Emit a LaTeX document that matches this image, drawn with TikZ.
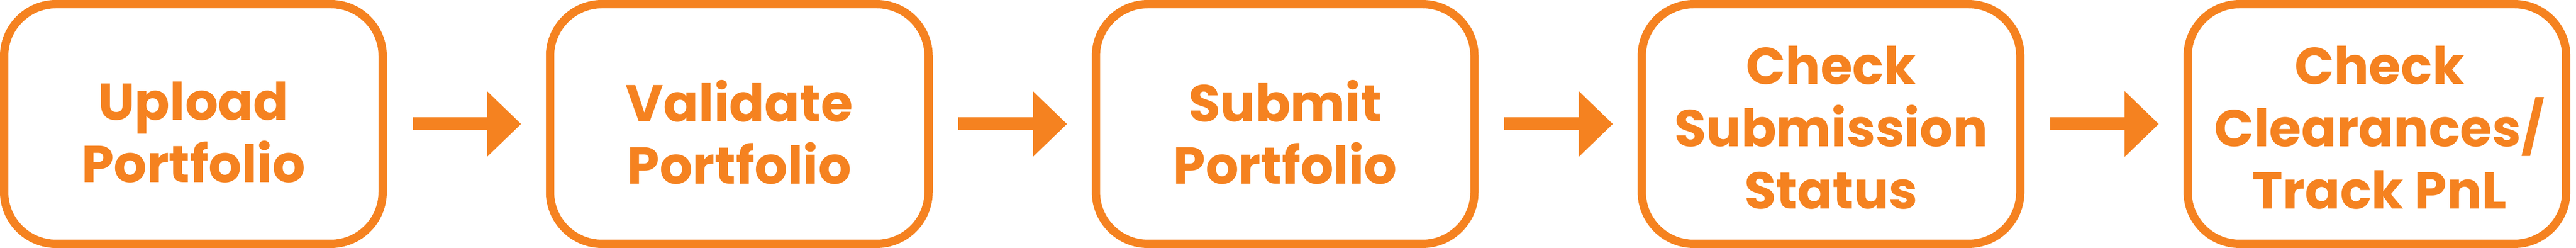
\documentclass[tikz,border=0pt]{standalone}
\usepackage{fontspec}
\setmainfont{Poppins}
\usetikzlibrary{positioning,arrows.meta}
\definecolor{brandorange}{RGB}{245,130,32}
\tikzset{
  stage/.style={draw=brandorange,line width=1.6pt,rounded corners=10pt,
    minimum width=73pt,minimum height=46.2pt,inner sep=0pt,outer sep=0pt},
  caption/.style={text=brandorange,align=center,inner sep=0pt,
    font=\bfseries\fontsize{10}{12}\selectfont},
  handoff/.style={color=brandorange,line width=2.5pt,
    -{Triangle[length=6.6pt,width=12.3pt]},
    shorten <=5.77pt,shorten >=5.575pt}
}

\begin{document}
\begin{tikzpicture}[node distance=105.275pt,on grid]
    \useasboundingbox (0,0) rectangle (496.8pt,47.8pt);
    \node[stage] (s_up) at (37.3pt,23.9pt) {};
    \node[stage] (s_val) [right=of s_up] {};
    \node[stage] (s_sub) [right=of s_val] {};
    \node[stage] (s_chk) [right=of s_sub] {};
    \node[stage] (s_clr) [right=of s_chk] {};
    % texts
    \node[caption] (c_up) at ([yshift=-1.6pt]s_up.center) {Upload\\Portfolio};
    \node[caption] (c_val) at ([yshift=-1.6pt]s_val.center) {Validate\\Portfolio};
    \node[caption] (c_sub) at ([yshift=-1.6pt]s_sub.center) {Submit\\Portfolio};
    \node[caption] (c_chk) at ([yshift=-0.7pt]s_chk.center) {Check\\Submission\\Status};
    \node[caption] (c_clr) at ([yshift=-0.7pt,xshift=0.5pt]s_clr.center) {Check\\Clearances/\\Track PnL};
    \path[handoff]
    (s_up) edge (s_val)
    (s_val) edge (s_sub)
    (s_sub) edge (s_chk)
    (s_chk) edge (s_clr)
    ; %end path
\end{tikzpicture}
\end{document}
